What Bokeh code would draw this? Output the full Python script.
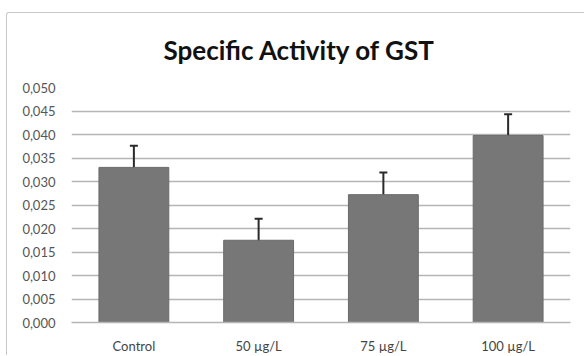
from bokeh.plotting import figure
from bokeh.models import ColumnDataSource, FixedTicker, Whisker, Range1d
from bokeh.embed import file_html
from bokeh.resources import INLINE

categories = ["Control", "50 µg/L", "75 µg/L", "100 µg/L"]
values = [0.0330, 0.0175, 0.0272, 0.0398]
errors = [0.0046, 0.0046, 0.0047, 0.0045]
y_ticks = [0.000, 0.005, 0.010, 0.015, 0.020, 0.025, 0.030, 0.035, 0.040, 0.045, 0.050]
y_tick_labels = ["0,000", "0,005", "0,010", "0,015", "0,020", "0,025",
                 "0,030", "0,035", "0,040", "0,045", "0,050"]

src = ColumnDataSource(dict(
    cat=categories, val=values,
    upper=[v + e for v, e in zip(values, errors)],
    lower=[v - e for v, e in zip(values, errors)],
))

p = figure(x_range=categories, y_range=Range1d(0, 0.05),
           width=578, height=343, output_backend="svg", toolbar_location=None,
           title="Specific Activity of GST",
           min_border_left=64, min_border_right=15, min_border_top=74, min_border_bottom=0)

p.styles = {"margin-left": "6px", "margin-top": "12px",
            "border-left": "1px solid #c8c8c8", "border-top": "1px solid #c8c8c8",
            "border-top-left-radius": "3px"}

p.title.align = "left"
p.title.vertical_align = "top"
p.title.text_font = "Lato"
p.title.text_font_style = "bold"
p.title.text_font_size = "26px"
p.title.text_color = "#111111"
p.title.offset = 92
p.title.standoff = 40

p.vbar(x="cat", top="val", width=0.56, source=src,
       fill_color="#777777", line_color="#6a6a6a", line_width=1)

w = Whisker(source=src, base="cat", upper="upper", lower="lower",
            line_color="#2a2a2a", line_width=2)
w.upper_head.size = 8
w.lower_head.size = 8
w.upper_head.line_color = "#2a2a2a"
w.lower_head.line_color = "#2a2a2a"
w.upper_head.line_width = 2
w.lower_head.line_width = 2
p.add_layout(w)

p.yaxis.ticker = FixedTicker(ticks=y_ticks)
p.yaxis.major_label_overrides = {t: l for t, l in zip(y_ticks, y_tick_labels)}
p.yaxis.axis_line_color = None
p.yaxis.major_tick_line_color = None
p.yaxis.minor_tick_line_color = None
p.yaxis.major_label_text_font = "Lato"
p.yaxis.major_label_text_font_size = "13px"
p.yaxis.major_label_text_color = "#555555"
p.yaxis.major_label_standoff = 10

p.xaxis.axis_line_color = "#b5b5b5"
p.xaxis.axis_line_width = 1.5
p.xaxis.major_tick_line_color = None
p.xaxis.minor_tick_line_color = None
p.xaxis.major_label_text_font = "Lato"
p.xaxis.major_label_text_font_size = "13px"
p.xaxis.major_label_text_color = "#444444"
p.xaxis.major_label_standoff = 9

p.xgrid.grid_line_color = None
p.ygrid.grid_line_color = "#b5b5b5"
p.ygrid.grid_line_width = 1.5
p.outline_line_color = None
p.x_range.range_padding = 0.0

open("out.html", "w").write(file_html(p, INLINE))
